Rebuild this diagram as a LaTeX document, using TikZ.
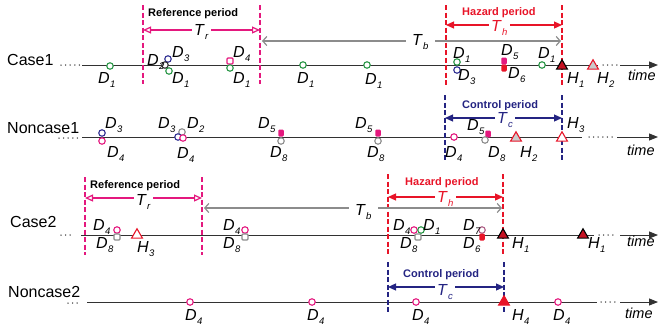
\documentclass[tikz,border=0pt]{standalone}
\usepackage{fontspec}
\setmainfont{Liberation Sans}
\usetikzlibrary{arrows.meta,shapes.geometric}
\definecolor{mag}{RGB}{228,24,126}
\definecolor{hred}{RGB}{232,20,40}
\definecolor{navy}{RGB}{36,36,130}
\definecolor{grn}{RGB}{40,150,70}
\definecolor{blu}{RGB}{45,45,145}
\definecolor{gry}{RGB}{140,140,140}
\definecolor{axis}{RGB}{50,50,50}
\newcommand\lbl[2]{\textit{#1}\kern0.3pt\raisebox{-4.5pt}{\fontsize{9.5}{10}\selectfont\textit{#2}}}
\begin{document}
\begin{tikzpicture}[x=1pt,y=-1pt,
  tl/.style={draw=axis,line width=0.9pt},
  ta/.style={draw=axis,line width=0.9pt,-{Triangle[length=9pt,width=7pt]}},
  dotsl/.style={draw=axis,line width=1.5pt,line cap=round,dash pattern=on 0pt off 4.6pt},
  refl/.style={draw=mag,line width=1.8pt,dash pattern=on 5pt off 2.5pt},
  hazl/.style={draw=hred,line width=1.8pt,dash pattern=on 5pt off 2.5pt},
  conl/.style={draw=navy,line width=1.8pt,dash pattern=on 5pt off 2.5pt},
  refa/.style={draw=mag,line width=1.2pt,{Triangle[open,length=8pt,width=7pt,fill=white]}-{Triangle[open,length=8pt,width=7pt,fill=white]}},
  haza/.style={draw=hred,line width=1.2pt,{Triangle[length=8pt,width=7pt]}-{Triangle[length=8pt,width=7pt]}},
  cona/.style={draw=navy,line width=1.2pt,{Triangle[length=8pt,width=7pt]}-{Triangle[length=8pt,width=7pt]}},
  tba/.style={draw=gry,line width=1.2pt,{Straight Barb[length=4pt,width=9pt]}-{Straight Barb[length=4pt,width=9pt]}},
  cm/.style={circle,draw=#1,fill=white,line width=1.1pt,minimum size=6.5pt,inner sep=0pt},
  sq/.style={rectangle,rounded corners=1pt,draw=#1,fill=white,line width=1.1pt,minimum size=6pt,inner sep=0pt},
  fsq/.style={rectangle,rounded corners=1.2pt,fill=#1,minimum width=5.5pt,minimum height=7pt,inner sep=0pt},
  tri/.style={regular polygon,regular polygon sides=3,minimum size=12.5pt,inner sep=0pt,line width=1.1pt,draw=#1},
  lab/.style={anchor=base west,inner sep=0pt,font=\fontsize{16}{16}\selectfont},
  ptxt/.style={anchor=base west,inner sep=0pt,font=\bfseries\fontsize{11}{12}\selectfont},
  tlab/.style={anchor=base west,inner sep=2pt,fill=white,font=\fontsize{16}{16}\selectfont},
  timel/.style={anchor=base west,inner sep=0pt,font=\itshape\fontsize{14.5}{15}\selectfont}]
\path[use as bounding box] (0,0) rectangle (660,327);

% ---------------- row labels ----------------
\node[lab] (rl1) at (7,65) {Case1};
\node[lab] (rl2) at (7,133) {Noncase1};
\node[lab] (rl3) at (10,227) {Case2};
\node[lab] (rl4) at (8,297) {Noncase2};

% ---------------- time lines ----------------
% Case1
\coordinate (a1d) at (61,65); \coordinate (a1e) at (80,65);
\coordinate (a1s) at (82,65); \coordinate (a1t) at (598,65);
\coordinate (a1u) at (603,65); \coordinate (a1v) at (617,65);
\coordinate (a1w) at (620,65); \coordinate (a1x) at (658,65);
\draw[dotsl] (a1d) -- (a1e);
\draw[tl] (a1s) -- (a1t);
\draw[dotsl] (a1u) -- (a1v);
\draw[ta] (a1w) -- (a1x);
% Noncase1
\coordinate (a2d) at (59,138); \coordinate (a2e) at (78,138);
\coordinate (a2s) at (82,137); \coordinate (a2t) at (582,137);
\coordinate (a2u) at (589,137); \coordinate (a2v) at (613,137);
\coordinate (a2w) at (617,137); \coordinate (a2x) at (658,137);
\draw[dotsl] (a2d) -- (a2e);
\draw[tl] (a2s) -- (a2t);
\draw[dotsl] (a2u) -- (a2v);
\draw[ta] (a2w) -- (a2x);
% Case2
\coordinate (a3d) at (61,235); \coordinate (a3e) at (72,235);
\coordinate (a3s) at (81,235); \coordinate (a3t) at (594,235);
\coordinate (a3u) at (599,235); \coordinate (a3v) at (615,235);
\coordinate (a3w) at (620,235); \coordinate (a3x) at (658,235);
\draw[dotsl] (a3d) -- (a3e);
\draw[tl] (a3s) -- (a3t);
\draw[dotsl] (a3u) -- (a3v);
\draw[ta] (a3w) -- (a3x);
% Noncase2
\coordinate (a4d) at (68,303); \coordinate (a4e) at (80,303);
\coordinate (a4s) at (87,302); \coordinate (a4t) at (597,302);
\coordinate (a4u) at (601,302); \coordinate (a4v) at (615,302);
\coordinate (a4w) at (620,302); \coordinate (a4x) at (658,302);
\draw[dotsl] (a4d) -- (a4e);
\draw[tl] (a4s) -- (a4t);
\draw[dotsl] (a4u) -- (a4v);
\draw[ta] (a4w) -- (a4x);

% ---------------- Case1 periods ----------------
\coordinate (r1at) at (143,5); \coordinate (r1ab) at (143,84);
\coordinate (r1bt) at (260,5); \coordinate (r1bb) at (260,84);
\draw[refl] (r1at) -- (r1ab);
\draw[refl] (r1bt) -- (r1bb);
\node[ptxt] (rp1) at (148,16) {Reference period};
\coordinate (tr1l) at (143,30); \coordinate (tr1r) at (260,30);
\draw[refa] (tr1l) -- (tr1r);
\node[tlab] (tr1) at (192,35) {\lbl{T}{r}};

\coordinate (h1at) at (446,5); \coordinate (h1ab) at (446,86);
\coordinate (h1bt) at (562,5); \coordinate (h1bb) at (562,86);
\draw[hazl] (h1at) -- (h1ab);
\draw[hazl] (h1bt) -- (h1bb);
\node[ptxt,text=hred] (hp1) at (462,15) {Hazard period};
\coordinate (th1l) at (446,25); \coordinate (th1r) at (562,25);
\draw[haza] (th1l) -- (th1r);
\node[tlab,text=hred] (th1) at (489,31) {\lbl{T}{h}};

\coordinate (tb1l) at (262,41); \coordinate (tb1r) at (561,41);
\draw[tba] (tb1l) -- (tb1r);
\node[tlab,inner xsep=6pt] (tb1) at (406,45) {\lbl{T}{b}};

% Case1 events
\node[cm=grn] (e101) at (110,66) {};
\node[cm=blu] (e102) at (168,59) {};
\node[cm=axis] (e103) at (165,65) {};
\node[cm=grn] (e104) at (169,71) {};
\node[sq=mag] (e105) at (230,61) {};
\node[cm=grn] (e106) at (230,68) {};
\node[cm=grn] (e107) at (303,65) {};
\node[cm=grn] (e108) at (367,65) {};
\node[cm=grn] (e109) at (457,62) {};
\node[cm=blu] (e110) at (457,70) {};
\node[fsq=mag] (e111) at (504,61) {};
\node[fsq=hred] (e112) at (504,68) {};
\node[cm=grn] (e113) at (542,65) {};
\node[tri=black,fill=hred!85!black] (e114) at (562,66) {};
\node[tri=hred,fill=gry!45] (e115) at (593,66) {};

\node[lab] (l101) at (98,83) {\lbl{D}{1}};
\node[lab] (l102) at (147,65) {\lbl{D}{2}};
\node[lab] (l103) at (172,57) {\lbl{D}{3}};
\node[lab] (l104) at (172,83) {\lbl{D}{1}};
\node[lab] (l105) at (233,57) {\lbl{D}{4}};
\node[lab] (l106) at (233,83) {\lbl{D}{1}};
\node[lab] (l107) at (297,83) {\lbl{D}{1}};
\node[lab] (l108) at (365,84) {\lbl{D}{1}};
\node[lab] (l109) at (453,58) {\lbl{D}{1}};
\node[lab] (l110) at (458,80) {\lbl{D}{3}};
\node[lab] (l111) at (501,55) {\lbl{D}{5}};
\node[lab] (l112) at (508,78) {\lbl{D}{6}};
\node[lab] (l113) at (538,58) {\lbl{D}{1}};
\node[lab] (l114) at (567,83) {\lbl{H}{1}};
\node[lab] (l115) at (597,83) {\lbl{H}{2}};
\node[timel] (tm1) at (628,80) {time};

% ---------------- Noncase1 ----------------
\coordinate (c1at) at (445,95); \coordinate (c1ab) at (445,162);
\coordinate (c1bt) at (562,95); \coordinate (c1bb) at (562,162);
\draw[conl] (c1at) -- (c1ab);
\draw[conl] (c1bt) -- (c1bb);
\node[ptxt,text=navy] (cp1) at (462,108) {Control period};
\coordinate (tc1l) at (445,118); \coordinate (tc1r) at (562,118);
\draw[cona] (tc1l) -- (tc1r);
\node[tlab,text=navy] (tc1) at (495,123) {\lbl{T}{c}};

\node[cm=blu] (e201) at (102,133) {};
\node[cm=mag] (e202) at (102,141) {};
\node[cm=gry] (e203) at (182,132) {};
\node[cm=blu] (e204) at (178,137) {};
\node[cm=mag] (e205) at (183,138) {};
\node[fsq=mag] (e206) at (281,133) {};
\node[cm=gry] (e207) at (281,141) {};
\node[fsq=mag] (e208) at (378,133) {};
\node[cm=gry] (e209) at (378,141) {};
\node[cm=mag] (e210) at (454,137) {};
\node[fsq=mag] (e211) at (488,134) {};
\node[cm=gry] (e212) at (485,140) {};
\node[tri=hred,fill=gry!45] (e213) at (516,138) {};
\node[tri=hred,fill=white] (e214) at (562,138) {};

\node[lab] (l201) at (105,128) {\lbl{D}{3}};
\node[lab] (l202) at (107,157) {\lbl{D}{4}};
\node[lab] (l203) at (158,128) {\lbl{D}{3}};
\node[lab] (l204) at (187,128) {\lbl{D}{2}};
\node[lab] (l205) at (177,158) {\lbl{D}{4}};
\node[lab] (l206) at (258,128) {\lbl{D}{5}};
\node[lab] (l207) at (270,157) {\lbl{D}{8}};
\node[lab] (l208) at (355,128) {\lbl{D}{5}};
\node[lab] (l209) at (367,157) {\lbl{D}{8}};
\node[lab] (l210) at (445,157) {\lbl{D}{4}};
\node[lab] (l211) at (467,130) {\lbl{D}{5}};
\node[lab] (l212) at (488,157) {\lbl{D}{8}};
\node[lab] (l213) at (520,157) {\lbl{H}{2}};
\node[lab] (l214) at (567,128) {\lbl{H}{3}};
\node[timel] (tm2) at (627,155) {time};

% ---------------- Case2 ----------------
\coordinate (r2at) at (85,177); \coordinate (r2ab) at (85,255);
\coordinate (r2bt) at (202,177); \coordinate (r2bb) at (202,255);
\draw[refl] (r2at) -- (r2ab);
\draw[refl] (r2bt) -- (r2bb);
\node[ptxt] (rp2) at (90,188) {Reference period};
\coordinate (tr2l) at (85,198); \coordinate (tr2r) at (202,198);
\draw[refa] (tr2l) -- (tr2r);
\node[tlab] (tr2) at (134,205) {\lbl{T}{r}};

\coordinate (h2at) at (388,174); \coordinate (h2ab) at (388,255);
\coordinate (h2bt) at (503,174); \coordinate (h2bb) at (503,255);
\draw[hazl] (h2at) -- (h2ab);
\draw[hazl] (h2bt) -- (h2bb);
\node[ptxt,text=hred] (hp2) at (405,185) {Hazard period};
\coordinate (th2l) at (388,197); \coordinate (th2r) at (503,197);
\draw[haza] (th2l) -- (th2r);
\node[tlab,text=hred] (th2) at (435,202) {\lbl{T}{h}};

\coordinate (tb2l) at (204,208); \coordinate (tb2r) at (502,208);
\draw[tba] (tb2l) -- (tb2r);
\node[tlab,inner xsep=6pt] (tb2) at (349,215) {\lbl{T}{b}};

\node[cm=mag] (e301) at (117,230) {};
\node[sq=gry] (e302) at (117,237) {};
\node[tri=hred,fill=white] (e303) at (137,235) {};
\node[cm=mag] (e304) at (245,230) {};
\node[sq=gry] (e305) at (245,237) {};
\node[cm=mag] (e306) at (414,230) {};
\node[sq=gry] (e307) at (418,237) {};
\node[cm=grn] (e308) at (421,230) {};
\node[cm=gry!60!mag] (e309) at (482,230) {};
\node[fsq=hred] (e310) at (482,237) {};
\node[tri=black,fill=hred!85!black] (e311) at (503,235) {};
\node[tri=black,fill=hred!85!black] (e312) at (583,235) {};

\node[lab] (l301) at (93,230) {\lbl{D}{4}};
\node[lab] (l302) at (96,248) {\lbl{D}{8}};
\node[lab] (l303) at (137,252) {\lbl{H}{3}};
\node[lab] (l304) at (223,230) {\lbl{D}{4}};
\node[lab] (l305) at (223,248) {\lbl{D}{8}};
\node[lab] (l306) at (393,230) {\lbl{D}{4}};
\node[lab] (l307) at (423,230) {\lbl{D}{1}};
\node[lab] (l308) at (400,248) {\lbl{D}{8}};
\node[lab] (l309) at (463,230) {\lbl{D}{7}};
\node[lab] (l310) at (463,248) {\lbl{D}{6}};
\node[lab] (l311) at (512,248) {\lbl{H}{1}};
\node[lab] (l312) at (588,248) {\lbl{H}{1}};
\node[timel] (tm3) at (627,246) {time};

% ---------------- Noncase2 ----------------
\coordinate (c2at) at (388,262); \coordinate (c2ab) at (388,314);
\coordinate (c2bt) at (504,262); \coordinate (c2bb) at (504,314);
\draw[conl] (c2at) -- (c2ab);
\draw[conl] (c2bt) -- (c2bb);
\node[ptxt,text=navy] (cp2) at (403,277) {Control period};
\coordinate (tc2l) at (388,287); \coordinate (tc2r) at (504,287);
\draw[cona] (tc2l) -- (tc2r);
\node[tlab,text=navy] (tc2) at (435,295) {\lbl{T}{c}};

\node[cm=mag] (e401) at (190,302) {};
\node[cm=mag] (e402) at (312,302) {};
\node[cm=mag] (e403) at (416,302) {};
\node[tri=hred,fill=hred] (e404) at (504,302) {};
\node[cm=mag] (e405) at (558,302) {};

\node[lab] (l401) at (185,320) {\lbl{D}{4}};
\node[lab] (l402) at (307,320) {\lbl{D}{4}};
\node[lab] (l403) at (412,320) {\lbl{D}{4}};
\node[lab] (l404) at (512,320) {\lbl{H}{4}};
\node[lab] (l405) at (553,320) {\lbl{D}{4}};
\node[timel] (tm4) at (625,318) {time};
\end{tikzpicture}
\end{document}
